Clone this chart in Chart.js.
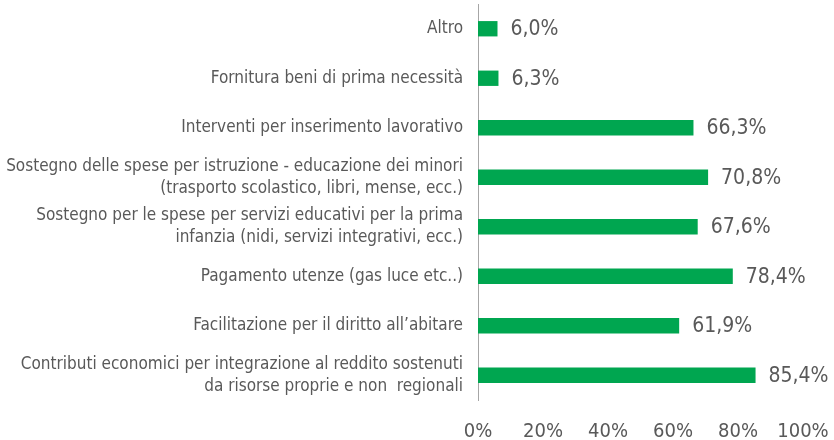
<!DOCTYPE html>
<html>
<head>
<meta charset="utf-8">
<script src="https://cdn.jsdelivr.net/npm/chart.js@4"></script>
<style>
  html, body { margin: 0; padding: 0; background: #fff; }
  #wrap { width: 834px; height: 440px; position: relative; }
</style>
</head>
<body>
<div id="wrap"><canvas id="chart"></canvas></div>
<script>
// === Data ===
const categories = [
    'Altro',
    'Fornitura beni di prima necessità',
    'Interventi per inserimento lavorativo',
    ['Sostegno delle spese per istruzione - educazione dei minori', '(trasporto scolastico, libri, mense, ecc.)'],
    ['Sostegno per le spese per servizi educativi per la prima', 'infanzia (nidi, servizi integrativi, ecc.)'],
    'Pagamento utenze (gas luce etc..)',
    'Facilitazione per il diritto all\u2019abitare',
    ['Contributi economici per integrazione al reddito sostenuti', 'da risorse proprie e non  regionali']
];
const values = [6.0, 6.3, 66.3, 70.8, 67.6, 78.4, 61.9, 85.4];
const xTicks = [0, 20, 40, 60, 80, 100];

// === Style ===
const FONT = "'Liberation Sans Narrow', 'DejaVu Sans Condensed', sans-serif";
const GREEN = '#00A650';
const TEXT = '#595959';

// valori a destra delle barre
const barLabels = {
    id: 'barLabels',
    afterDatasetsDraw(chart) {
        const ctx = chart.ctx;
        const meta = chart.getDatasetMeta(0);
        ctx.save();
        ctx.font = '21px ' + FONT;
        ctx.fillStyle = TEXT;
        ctx.textAlign = 'left';
        ctx.textBaseline = 'middle';
        meta.data.forEach((bar, i) => {
            const txt = values[i].toFixed(1).replace('.', ',') + '%';
            ctx.fillText(txt, bar.x + 13, bar.y + 1);
        });
        ctx.restore();
    }
};

new Chart(document.getElementById('chart'), {
    type: 'bar',
    data: {
        labels: categories,
        datasets: [{
            data: values,
            backgroundColor: GREEN,
            borderWidth: 0,
            categoryPercentage: 1,
            barPercentage: 0.31
        }]
    },
    options: {
        indexAxis: 'y',
        responsive: true,
        maintainAspectRatio: false,
        animation: false,
        layout: { padding: { top: 4, right: 31, left: 0, bottom: 0 } },
        plugins: {
            legend: { display: false },
            tooltip: { enabled: false }
        },
        scales: {
            x: {
                min: 0,
                max: 100,
                afterBuildTicks(scale) {
                    scale.ticks = xTicks.map(v => ({ value: v }));
                },
                afterFit(scale) {
                    scale.height = 40;
                    scale.paddingLeft = 0;
                    scale.paddingRight = 0;
                },
                grid: { display: false, drawTicks: false },
                border: { display: false },
                ticks: {
                    padding: 20,
                    color: TEXT,
                    font: { family: FONT, size: 20 },
                    callback: v => v + '%'
                }
            },
            y: {
                afterFit(scale) {
                    scale.width = 478;
                    scale.paddingTop = 0;
                    scale.paddingBottom = 0;
                },
                grid: { display: false, drawTicks: false },
                border: { display: true, color: '#A6A6A6', width: 1 },
                ticks: {
                    autoSkip: false,
                    padding: 15,
                    color: TEXT,
                    font: { family: FONT, size: 17, lineHeight: 1.3 }
                }
            }
        }
    },
    plugins: [barLabels]
});
</script>
</body>
</html>
